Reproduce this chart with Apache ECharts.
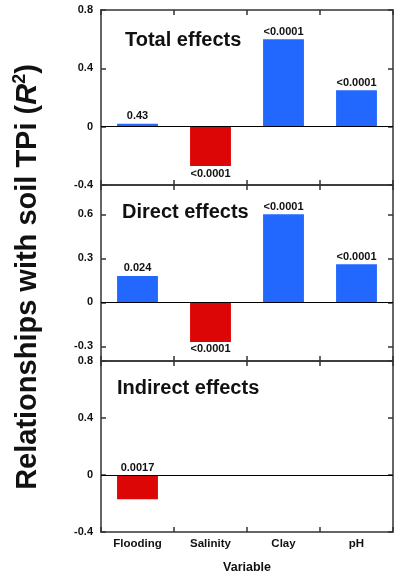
<!DOCTYPE html>
<html>
<head>
<meta charset="utf-8">
<script src="https://cdn.jsdelivr.net/npm/echarts@6/dist/echarts.min.js"></script>
<style>
html,body{margin:0;padding:0;background:#fff;}
#chart{width:396px;height:575px;}
</style>
</head>
<body>
<div id="chart"></div>
<script>
const categories = ['Flooding', 'Salinity', 'Clay', 'pH'];
const totalValues = [0.02, -0.27, 0.60, 0.25];
const totalLabels = ['0.43', '<0.0001', '<0.0001', '<0.0001'];
const directValues = [0.18, -0.27, 0.60, 0.26];
const directLabels = ['0.024', '<0.0001', '<0.0001', '<0.0001'];
const indirectValues = [-0.17, null, null, null];
const indirectLabels = ['0.0017', '', '', ''];
const panelTitles = ['Total effects', 'Direct effects', 'Indirect effects'];
const yTicksTotal = [-0.4, 0, 0.4, 0.8];
const yTicksDirect = [-0.3, 0, 0.3, 0.6];
const yTicksIndirect = [-0.4, 0, 0.4, 0.8];
const yMin = -0.4, yMax = 0.8;
const xName = 'Variable';

const FONT = '"Liberation Sans", Arial, sans-serif';
const BLUE = '#2268ff';
const RED = '#dc0606';

const panels = [
  {values: totalValues, labels: totalLabels, ticks: yTicksTotal, title: panelTitles[0], negLabelBelow: true},
  {values: directValues, labels: directLabels, ticks: yTicksDirect, title: panelTitles[1], negLabelBelow: true},
  {values: indirectValues, labels: indirectLabels, ticks: yTicksIndirect, title: panelTitles[2], negLabelBelow: false}
];

const grids = [
  {left: 101, top: 10, width: 292, height: 175},
  {left: 101, top: 185, width: 292, height: 176},
  {left: 101, top: 361, width: 292, height: 175}
];

const lineStyle = {color: '#333', width: 1.5};
const xAxes = [], yAxes = [], series = [];

panels.forEach((p, i) => {
  const last = i === panels.length - 1;
  xAxes.push({
    type: 'category', gridIndex: i, data: categories, position: 'bottom',
    axisLine: {show: true, onZero: false, lineStyle: lineStyle},
    axisTick: {show: true, inside: true, length: 5, lineStyle: lineStyle},
    axisLabel: {show: last, margin: 6, fontFamily: FONT, fontWeight: 'bold', fontSize: 11.5, color: '#111'},
    name: last ? xName : '', nameLocation: 'middle', nameGap: 29,
    nameTextStyle: {fontFamily: FONT, fontWeight: 'bold', fontSize: 12.5, color: '#111'}
  });
  xAxes.push({
    type: 'category', gridIndex: i, data: categories, position: 'top',
    axisLine: {show: true, onZero: false, lineStyle: lineStyle},
    axisTick: {show: true, inside: true, length: 5, lineStyle: lineStyle},
    axisLabel: {show: false}
  });
  yAxes.push({
    type: 'value', gridIndex: i, min: yMin, max: yMax, position: 'left',
    axisLine: {show: true, onZero: false, lineStyle: {color: '#666', width: 2}},
    axisTick: {show: true, inside: true, length: 5, customValues: p.ticks, lineStyle: lineStyle},
    axisLabel: {show: true, customValues: p.ticks, margin: 8, fontFamily: FONT, fontWeight: 'bold', fontSize: 11, color: '#111',
      formatter: v => String(Math.round(v * 10) / 10)},
    splitLine: {show: false}
  });
  yAxes.push({
    type: 'value', gridIndex: i, min: yMin, max: yMax, position: 'right',
    axisLine: {show: true, onZero: false, lineStyle: lineStyle},
    axisTick: {show: true, inside: true, length: 5, customValues: p.ticks, lineStyle: lineStyle},
    axisLabel: {show: false},
    splitLine: {show: false}
  });
  series.push({
    type: 'bar', xAxisIndex: 2 * i, yAxisIndex: 2 * i,
    barWidth: '56%',
    data: p.values.map((v, k) => v === null ? '-' : {
      value: v,
      itemStyle: {color: v >= 0 ? BLUE : RED},
      label: {
        show: true,
        formatter: p.labels[k],
        position: (v < 0 && p.negLabelBelow) ? 'bottom' : 'top',
        distance: 2,
        fontFamily: FONT, fontWeight: 'bold', fontSize: 11, color: '#111'
      }
    }),
    markLine: {
      silent: true, symbol: 'none', animation: false,
      label: {show: false},
      lineStyle: {color: '#000', type: 'solid', width: 1},
      data: [{yAxis: 0}]
    },
    animation: false
  });
});

const titlePos = [[125, 40], [122, 212], [117, 388]];
const graphics = panels.map((p, i) => ({
  type: 'text', x: titlePos[i][0], y: titlePos[i][1],
  style: {text: p.title, fontFamily: FONT, fontWeight: 'bold', fontSize: 20, fill: '#111',
    textAlign: 'left', textVerticalAlign: 'middle'}
}));
graphics.push({
  type: 'text', x: 27.5, y: 277, rotation: Math.PI / 2,
  style: {
    text: '{a|Relationships with soil TPi (}{i|R}{s|2}{a|)}',
    textAlign: 'center', textVerticalAlign: 'middle',
    fontFamily: FONT, fontWeight: 'bold', fontSize: 29,
    fill: '#111',
    rich: {
      a: {fontFamily: FONT, fontWeight: 'bold', fontSize: 29, lineHeight: 32, fill: '#111'},
      i: {fontFamily: FONT, fontWeight: 'bold', fontStyle: 'italic', fontSize: 29, lineHeight: 32, fill: '#111'},
      s: {fontFamily: FONT, fontWeight: 'bold', fontSize: 18, lineHeight: 32, verticalAlign: 'top', fill: '#111'}
    }
  }
});

const chart = echarts.init(document.getElementById('chart'), null, {renderer: 'canvas'});
chart.setOption({
  animation: false,
  backgroundColor: '#fff',
  grid: grids,
  xAxis: xAxes,
  yAxis: yAxes,
  series: series,
  graphic: graphics
});
</script>
</body>
</html>
